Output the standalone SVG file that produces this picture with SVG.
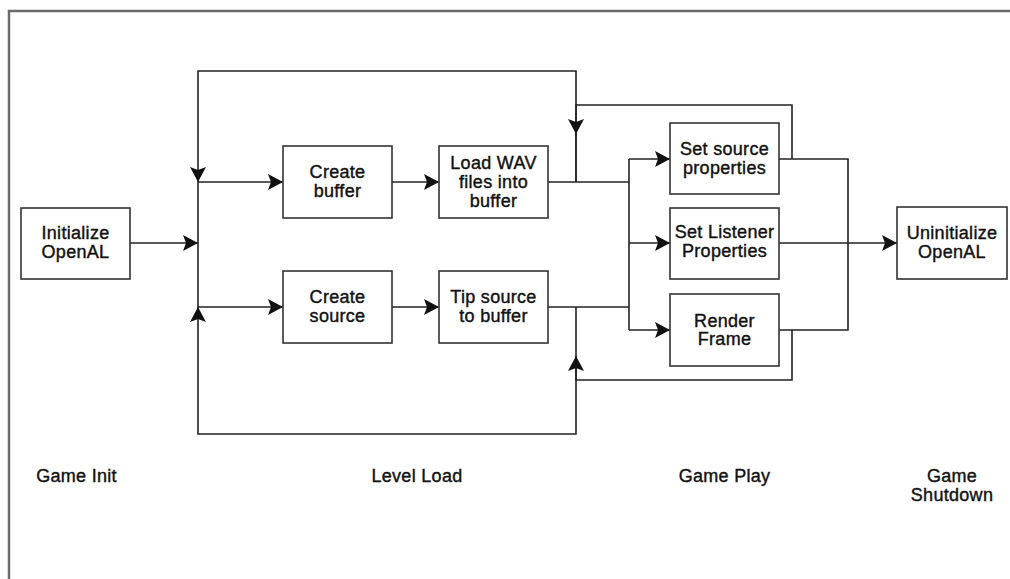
<svg xmlns="http://www.w3.org/2000/svg" width="1010" height="579" viewBox="0 0 1010 579">
<style>
.box{fill:#fff;stroke:#333;stroke-width:1.6}
.ln{fill:none;stroke:#222;stroke-width:1.6}
.t{font-family:"Liberation Sans",Arial,sans-serif;font-size:18px;fill:#111;stroke:#111;stroke-width:0.4;text-anchor:middle;letter-spacing:0.3px}
.frame{fill:none;stroke:#6a6a6a;stroke-width:2.5}
</style>
<defs>
<marker id="arr" markerUnits="userSpaceOnUse" markerWidth="16" markerHeight="16" viewBox="0 0 16 16" refX="15" refY="8" orient="auto">
<path d="M0,0 L15,8 L0,16 L3,8 z" fill="#111"/>
</marker>
</defs>
<rect width="1010" height="579" fill="#fff"/>
<path class="frame" d="M9,579 V11 H1010"/>
<g id="connectors">
<path class="ln" d="M130,243 H198" marker-end="url(#arr)"/>
<path class="ln" d="M576,182 V71 H198 V182" marker-end="url(#arr)"/>
<path class="ln" d="M576,307 V434 H198 V307" marker-end="url(#arr)"/>
<path class="ln" d="M198,182 V307"/>
<path class="ln" d="M198,182 H283" marker-end="url(#arr)"/>
<path class="ln" d="M198,307 H283" marker-end="url(#arr)"/>
<path class="ln" d="M392,182 H439" marker-end="url(#arr)"/>
<path class="ln" d="M392,307 H439" marker-end="url(#arr)"/>
<path class="ln" d="M548,182 H629"/>
<path class="ln" d="M548,307 H629"/>
<path class="ln" d="M629,159 V330"/>
<path class="ln" d="M629,159 H670" marker-end="url(#arr)"/>
<path class="ln" d="M629,243 H670" marker-end="url(#arr)"/>
<path class="ln" d="M629,330 H670" marker-end="url(#arr)"/>
<path class="ln" d="M779,159 H848 V330 H779"/>
<path class="ln" d="M779,243 H897" marker-end="url(#arr)"/>
<path class="ln" d="M792,159 V105 H576 V134" marker-end="url(#arr)"/>
<path class="ln" d="M576,133 V182"/>
<path class="ln" d="M792,330 V380 H576 V356" marker-end="url(#arr)"/>
</g>
<g id="init"><rect class="box" x="21" y="208" width="109" height="71"/><text class="t" x="75.5" y="239">Initialize</text><text class="t" x="75.5" y="258">OpenAL</text></g>
<g id="createBuffer"><rect class="box" x="283" y="146" width="109" height="72"/><text class="t" x="337.5" y="178">Create</text><text class="t" x="337.5" y="197">buffer</text></g>
<g id="loadWav"><rect class="box" x="439" y="146" width="109" height="72"/><text class="t" x="493.5" y="169">Load WAV</text><text class="t" x="493.5" y="188">files into</text><text class="t" x="493.5" y="207">buffer</text></g>
<g id="createSource"><rect class="box" x="283" y="271" width="109" height="72"/><text class="t" x="337.5" y="303">Create</text><text class="t" x="337.5" y="322">source</text></g>
<g id="tipSource"><rect class="box" x="439" y="271" width="109" height="72"/><text class="t" x="493.5" y="303">Tip source</text><text class="t" x="493.5" y="322">to buffer</text></g>
<g id="setSource"><rect class="box" x="670" y="123" width="109" height="71"/><text class="t" x="724.5" y="155">Set source</text><text class="t" x="724.5" y="174">properties</text></g>
<g id="setListener"><rect class="box" x="670" y="208" width="109" height="71"/><text class="t" x="724.5" y="238">Set Listener</text><text class="t" x="724.5" y="257">Properties</text></g>
<g id="render"><rect class="box" x="670" y="294" width="109" height="72"/><text class="t" x="724.5" y="327">Render</text><text class="t" x="724.5" y="345">Frame</text></g>
<g id="uninit"><rect class="box" x="897" y="207" width="110" height="72"/><text class="t" x="952" y="239">Uninitialize</text><text class="t" x="952" y="258">OpenAL</text></g>
<g id="labels">
<text class="t" x="76.5" y="482">Game Init</text>
<text class="t" x="417" y="482">Level Load</text>
<text class="t" x="724.5" y="482">Game Play</text>
<text class="t" x="952" y="482">Game</text>
<text class="t" x="952" y="501">Shutdown</text>
</g>
</svg>
